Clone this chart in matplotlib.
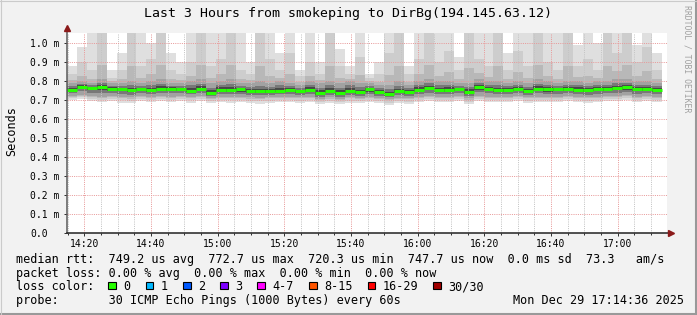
import numpy as np
import matplotlib
matplotlib.use("Agg")
import matplotlib.pyplot as plt
from matplotlib.patches import Rectangle
from matplotlib.lines import Line2D

FIG_W, FIG_H, DPI = 697, 315, 100

title = "Last 3 Hours from smokeping to DirBg(194.145.63.12)"
y_axis_label = "Seconds"
side_label = "RRDTOOL / TOBI OETIKER"

y_tick_values = [0.0, 0.1, 0.2, 0.3, 0.4, 0.5, 0.6, 0.7, 0.8, 0.9, 1.0]
y_tick_labels = ["0.0", "0.1 m", "0.2 m", "0.3 m", "0.4 m", "0.5 m",
                 "0.6 m", "0.7 m", "0.8 m", "0.9 m", "1.0 m"]
x_tick_minutes = [20, 40, 60, 80, 100, 120, 140, 160, 180]  # minutes after 14:00
x_tick_labels = ["14:20", "14:40", "15:00", "15:20", "15:40",
                 "16:00", "16:20", "16:40", "17:00"]

view_start_min = 14.8
view_end_min = 194.8
y_max = 1.0558

col_start_min = 14.8
col_step_min = 2.975

median_ms = [0.756, 0.772, 0.765, 0.768, 0.761, 0.758, 0.753, 0.758, 0.754, 0.760,
             0.761, 0.758, 0.751, 0.761, 0.738, 0.756, 0.753, 0.757, 0.751, 0.747,
             0.749, 0.751, 0.754, 0.747, 0.756, 0.738, 0.751, 0.738, 0.751, 0.742,
             0.757, 0.744, 0.733, 0.747, 0.742, 0.756, 0.765, 0.753, 0.756, 0.758,
             0.744, 0.770, 0.760, 0.754, 0.756, 0.761, 0.751, 0.760, 0.758, 0.758,
             0.760, 0.756, 0.753, 0.758, 0.760, 0.765, 0.768, 0.758, 0.761, 0.756]

smoke_top = [0.88, 0.98, 1.06, 1.06, 0.86, 0.95, 1.06, 1.06, 1.00, 1.06,
             0.95, 0.90, 1.06, 1.06, 1.06, 1.06, 1.06, 1.06, 0.90, 1.06,
             1.06, 0.95, 1.06, 0.86, 1.06, 0.90, 1.06, 0.97, 0.88, 1.06,
             0.84, 0.90, 1.06, 1.06, 0.88, 1.06, 1.06, 1.06, 1.06, 0.93,
             1.06, 1.06, 1.06, 1.06, 0.95, 1.06, 1.06, 1.06, 1.06, 1.06,
             1.06, 0.99, 1.06, 1.00, 1.06, 1.06, 1.06, 0.99, 1.06, 0.95]

smoke_up_mid = [0.84, 0.90, 0.86, 1.06, 0.82, 0.86, 1.06, 0.88, 0.92, 1.06,
                0.86, 0.84, 0.90, 1.06, 0.88, 0.92, 1.06, 0.86, 0.84, 1.06,
                0.92, 0.86, 0.95, 0.83, 0.90, 0.84, 1.06, 0.88, 0.84, 0.93,
                0.82, 0.84, 0.95, 1.06, 0.84, 0.92, 1.06, 0.90, 0.96, 0.86,
                1.06, 0.92, 0.88, 1.06, 0.86, 0.96, 0.88, 1.06, 0.90, 0.86,
                1.06, 0.88, 0.92, 0.86, 1.06, 0.95, 1.06, 0.90, 0.98, 0.86]

smoke_up_dark = [0.79, 0.80, 0.79, 0.81, 0.79, 0.79, 0.80, 0.79, 0.80, 0.81,
                 0.79, 0.79, 0.80, 0.81, 0.79, 0.80, 0.81, 0.79, 0.79, 0.80,
                 0.79, 0.80, 0.79, 0.78, 0.80, 0.79, 0.80, 0.79, 0.80, 0.79,
                 0.79, 0.78, 0.78, 0.80, 0.78, 0.80, 0.81, 0.80, 0.80, 0.79,
                 0.79, 0.81, 0.80, 0.80, 0.79, 0.80, 0.79, 0.81, 0.80, 0.79,
                 0.80, 0.80, 0.79, 0.80, 0.80, 0.81, 0.81, 0.80, 0.80, 0.79]

smoke_low_dark = [0.725, 0.730, 0.725, 0.720, 0.725, 0.720, 0.715, 0.725, 0.720, 0.725,
                  0.720, 0.722, 0.718, 0.722, 0.710, 0.720, 0.718, 0.720, 0.715, 0.712,
                  0.715, 0.718, 0.720, 0.715, 0.720, 0.705, 0.715, 0.708, 0.715, 0.712,
                  0.720, 0.712, 0.705, 0.712, 0.710, 0.720, 0.725, 0.718, 0.720, 0.722,
                  0.710, 0.725, 0.720, 0.718, 0.720, 0.722, 0.715, 0.720, 0.718, 0.720,
                  0.722, 0.718, 0.715, 0.720, 0.722, 0.725, 0.728, 0.720, 0.722, 0.718]

smoke_bottom = [0.700, 0.705, 0.695, 0.690, 0.698, 0.688, 0.685, 0.695, 0.690, 0.698,
                0.692, 0.695, 0.688, 0.695, 0.685, 0.692, 0.688, 0.690, 0.685, 0.682,
                0.688, 0.690, 0.692, 0.688, 0.690, 0.678, 0.685, 0.680, 0.688, 0.685,
                0.692, 0.685, 0.675, 0.685, 0.682, 0.690, 0.698, 0.690, 0.692, 0.695,
                0.680, 0.698, 0.692, 0.690, 0.692, 0.695, 0.688, 0.692, 0.690, 0.692,
                0.695, 0.690, 0.688, 0.692, 0.695, 0.698, 0.700, 0.692, 0.695, 0.690]

legend_rtt = "median rtt:  749.2 us avg  772.7 us max  720.3 us min  747.7 us now  0.0 ms sd  73.3   am/s"
legend_loss = "packet loss: 0.00 % avg  0.00 % max  0.00 % min  0.00 % now"
loss_color_title = "loss color:"
loss_labels = ["0", "1", "2", "3", "4-7", "8-15", "16-29", "30/30"]
loss_colors = ["#26ff00", "#00b8ff", "#0059ff", "#7e00ff",
               "#ff00ff", "#ff5500", "#ff0000", "#a10000"]
probe_text = "probe:       30 ICMP Echo Pings (1000 Bytes) every 60s"
timestamp = "Mon Dec 29 17:14:36 2025"

MONO = "DejaVu Sans Mono"
BG = "#f2f2f2"

fig = plt.figure(figsize=(FIG_W / DPI, FIG_H / DPI), dpi=DPI, facecolor=BG)

PX_L, PX_R, PX_T, PX_B = 67, 667, 32.7, 233.3
ax = fig.add_axes([PX_L / FIG_W, (FIG_H - PX_B) / FIG_H,
                   (PX_R - PX_L) / FIG_W, (PX_B - PX_T) / FIG_H])
ax.set_facecolor("white")
ax.set_xlim(view_start_min, view_end_min)
ax.set_ylim(0, y_max)
for s in ax.spines.values():
    s.set_visible(False)

t = col_start_min + col_step_min * np.arange(len(median_ms))
med = np.array(median_ms)
top = np.array(smoke_top)
upm = np.array(smoke_up_mid)
upd = np.array(smoke_up_dark)
lod = np.array(smoke_low_dark)
bot = np.array(smoke_bottom)


def band(lo, hi, color, z):
    ax.bar(t, hi - lo, width=col_step_min, bottom=lo, align="edge",
           color=color, linewidth=0, zorder=z, antialiased=False)


band(bot, top, "#dfdfdf", 1.0)
band(bot + 0.4 * (lod - bot), upm, "#cdcdcd", 1.1)
band(bot + 0.8 * (lod - bot), upd + 0.3 * (upm - upd), "#b8b8b8", 1.2)
band(lod, upd, "#a2a2a2", 1.3)
band(med - 0.6 * (med - lod), med + 0.55 * (upd - med), "#787878", 1.4)
band(med - 0.3 * (med - lod), med + 0.28 * (upd - med), "#484848", 1.5)

# grid (dotted, drawn over the smoke)
minor_x = [m for m in np.arange(15, 195, 5) if m % 20 != 0]
DOT = dict(lw=0.72, dashes=(1, 1.2), zorder=3)
for m in minor_x:
    ax.axvline(m, color="#c4c4c4", **DOT)
for m in x_tick_minutes:
    ax.axvline(m, color="#e89a9a", **DOT)
for v in y_tick_values[1:]:
    ax.axhline(v, color="#e89a9a", **DOT)

# median line
ax.hlines(med, t, t + col_step_min, color="#26ff00", lw=2.2, zorder=4,
          capstyle="butt")

ax.set_xticks(x_tick_minutes)
ax.set_xticklabels(x_tick_labels, fontfamily=MONO, fontsize=7)
ax.set_xticks(minor_x, minor=True)
ax.tick_params(axis="x", which="major", length=2.2, width=0.72, color="#333333", pad=1.9)
ax.tick_params(axis="x", which="minor", length=1.4, width=0.72, color="#333333")
ax.set_yticks(y_tick_values)
ax.set_yticklabels(y_tick_labels, fontfamily=MONO, fontsize=7)
ax.tick_params(axis="y", which="major", length=2.2, width=0.72, color="#333333", pad=24.5)
for lbl in ax.get_yticklabels():
    lbl.set_horizontalalignment("left")

ax.add_line(Line2D([0, 0], [0, 1.02], transform=ax.transAxes, color="#5a5a5a",
                   lw=1.1, clip_on=False, zorder=6))
ax.add_line(Line2D([0, 1.006], [0, 0], transform=ax.transAxes, color="#222222",
                   lw=1.1, clip_on=False, zorder=6))
ax.plot([0], [1.0216], marker="^", ms=4.5, color="#8b1a1a", mec="#8b1a1a",
        transform=ax.transAxes, clip_on=False, zorder=7)
ax.plot([1.0067], [0], marker=">", ms=4.5, color="#8b1a1a", mec="#8b1a1a",
        transform=ax.transAxes, clip_on=False, zorder=7)


def px(x, y):
    return x / FIG_W, 1 - y / FIG_H


fig.text(*px(348, 14), title, fontfamily=MONO, fontsize=9.5, ha="center", va="center")
fig.text(*px(11.5, 131), y_axis_label, fontfamily=MONO, fontsize=8.5, rotation=90,
         ha="center", va="center")
fig.text(*px(687, 59), side_label, fontfamily=MONO, fontsize=5.9, rotation=270,
         ha="center", va="center", color="#a0a0a0")

LEG_X = 16
CH = 7.1
fig.text(*px(LEG_X, 259.5), legend_rtt, fontfamily=MONO, fontsize=8.5, ha="left", va="center")
fig.text(*px(LEG_X, 273), legend_loss, fontfamily=MONO, fontsize=8.5, ha="left", va="center")
fig.text(*px(LEG_X, 286.5), loss_color_title, fontfamily=MONO, fontsize=8.5, ha="left", va="center")
x = LEG_X + 13 * CH
for lab, col in zip(loss_labels, loss_colors):
    fx, fy = px(x, 289.2)
    fig.add_artist(Rectangle((fx, fy), 7.7 / FIG_W, 7.7 / FIG_H, transform=fig.transFigure,
                             facecolor=col, edgecolor="black", lw=0.8))
    fig.text(*px(x + 15, 286.5), lab, fontfamily=MONO, fontsize=8.5, ha="left", va="center")
    x = x + 15 + CH * len(lab) + 15.2
fig.text(*px(LEG_X, 300.5), probe_text, fontfamily=MONO, fontsize=8.5, ha="left", va="center")
fig.text(*px(513.3, 300.5), timestamp, fontfamily=MONO, fontsize=8.5, ha="left", va="center")

fig.add_artist(Line2D([0, 1], [1.5 / FIG_H, 1.5 / FIG_H], transform=fig.transFigure,
                      color="#999999", lw=1.5))
fig.add_artist(Line2D([1 - 1.5 / FIG_W, 1 - 1.5 / FIG_W], [0, 1], transform=fig.transFigure,
                      color="#999999", lw=1.5))
fig.add_artist(Line2D([0, 1], [1 - 0.5 / FIG_H, 1 - 0.5 / FIG_H], transform=fig.transFigure,
                      color="#cbcbcb", lw=0.8))
fig.add_artist(Line2D([0.5 / FIG_W, 0.5 / FIG_W], [0, 1], transform=fig.transFigure,
                      color="#cbcbcb", lw=0.8))

fig.savefig("out.png", dpi=DPI, facecolor=BG)
